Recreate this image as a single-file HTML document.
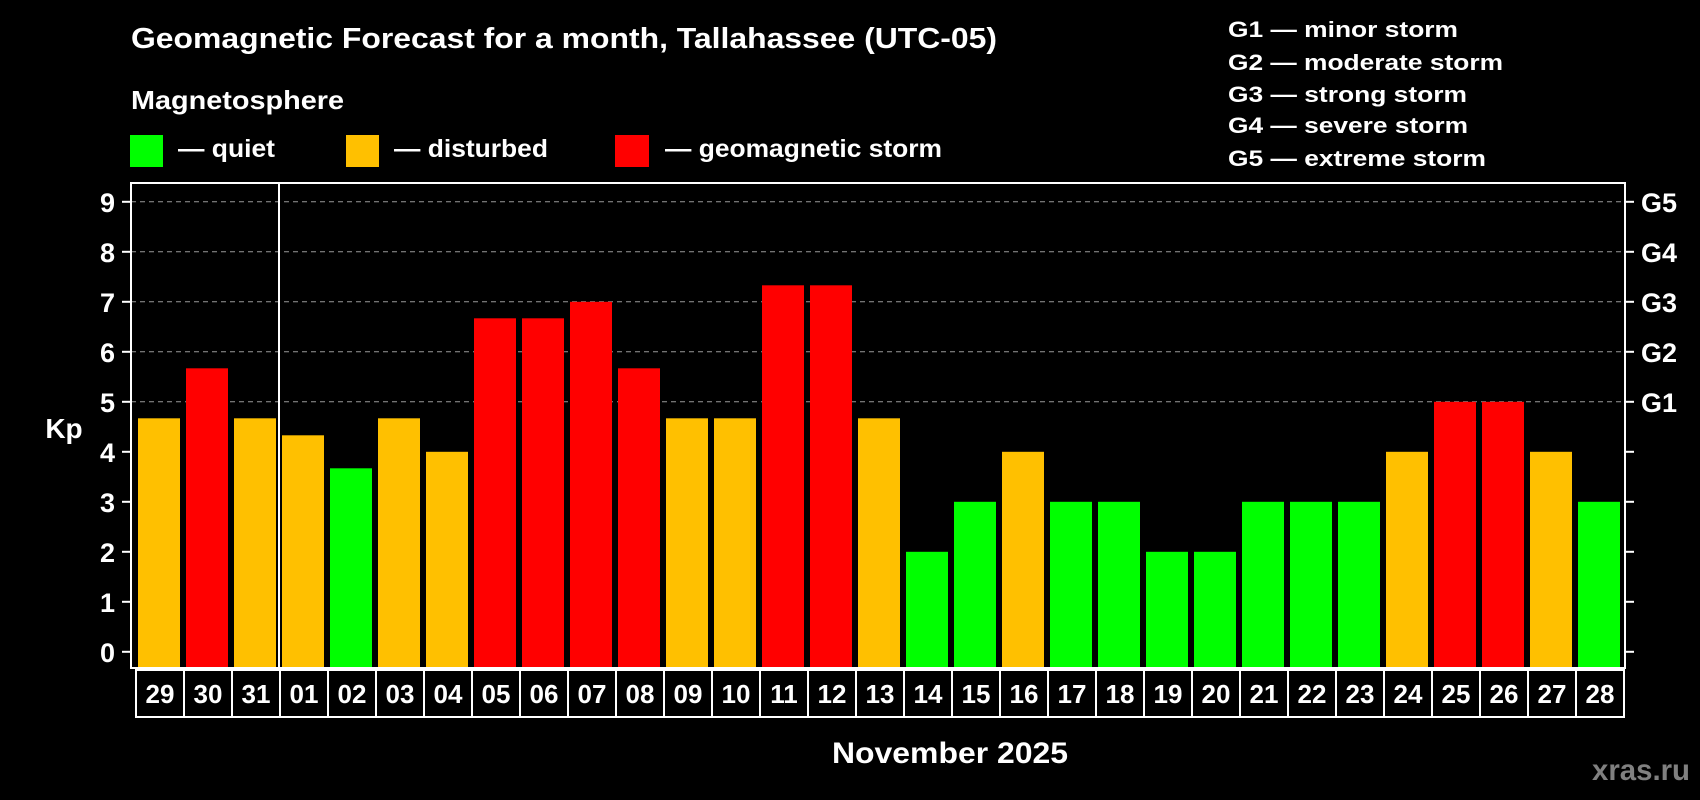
<!DOCTYPE html>
<html><head><meta charset="utf-8"><style>
html,body{margin:0;padding:0;background:#000;}
svg{display:block;font-family:"Liberation Sans",Arial,sans-serif;font-weight:bold;}
</style></head><body>
<svg id="chart" width="1700" height="800" viewBox="0 0 1700 800">
<rect width="1700" height="800" fill="#000"/>
<text x="131" y="48" fill="#fff" font-size="29" textLength="866" lengthAdjust="spacingAndGlyphs">Geomagnetic Forecast for a month, Tallahassee (UTC-05)</text>
<text x="131" y="109" fill="#fff" font-size="26" textLength="213" lengthAdjust="spacingAndGlyphs">Magnetosphere</text>
<g><rect x="130" y="135" width="33" height="32" fill="#00ff00"/><text x="178" y="157" fill="#fff" font-size="25" textLength="97" lengthAdjust="spacingAndGlyphs">— quiet</text></g>
<g><rect x="346" y="135" width="33" height="32" fill="#ffc000"/><text x="394" y="157" fill="#fff" font-size="25" textLength="154" lengthAdjust="spacingAndGlyphs">— disturbed</text></g>
<g><rect x="615" y="135" width="34" height="32" fill="#ff0000"/><text x="665" y="157" fill="#fff" font-size="25" textLength="277" lengthAdjust="spacingAndGlyphs">— geomagnetic storm</text></g>
<g fill="#fff" font-size="22">
<text x="1228" y="37" textLength="230" lengthAdjust="spacingAndGlyphs">G1 — minor storm</text>
<text x="1228" y="70" textLength="275" lengthAdjust="spacingAndGlyphs">G2 — moderate storm</text>
<text x="1228" y="102" textLength="239" lengthAdjust="spacingAndGlyphs">G3 — strong storm</text>
<text x="1228" y="133" textLength="240" lengthAdjust="spacingAndGlyphs">G4 — severe storm</text>
<text x="1228" y="166" textLength="258" lengthAdjust="spacingAndGlyphs">G5 — extreme storm</text>
</g>
<g id="grid"></g>
<g id="bars"></g>
<g id="axes"></g>
<text x="64" y="438" fill="#fff" font-size="28" text-anchor="middle">Kp</text>
<text x="950" y="763" fill="#fff" font-size="30" text-anchor="middle" textLength="236" lengthAdjust="spacingAndGlyphs">November 2025</text>
<text x="1690" y="780" fill="#808080" font-size="30" text-anchor="end" textLength="98" lengthAdjust="spacingAndGlyphs">xras.ru</text>
</svg>
<script>
const days = ["29","30","31","01","02","03","04","05","06","07","08","09","10","11","12","13","14","15","16","17","18","19","20","21","22","23","24","25","26","27","28"];
const kpValues = [4.67,5.67,4.67,4.33,3.67,4.67,4,6.67,6.67,7,5.67,4.67,4.67,7.33,7.33,4.67,2,3,4,3,3,2,2,3,3,3,4,5,5,4,3];
const yTicks = [0,1,2,3,4,5,6,7,8,9];
const gLabels = ["G1","G2","G3","G4","G5"];
const gLevels = [5,6,7,8,9];
const monthStartIndex = 3;

const NS = "http://www.w3.org/2000/svg";
const L = 131, R = 1625, T = 183, B = 668;
const y0 = 651.8, unit = 50;
const slot0 = 135, pitch = 48, barW = 42;
function yScale(v){ return y0 - v*unit; }
function xSlot(i){ return slot0 + i*pitch; }
function mk(tag, attrs, parent){ const e=document.createElementNS(NS,tag); for(const k in attrs) e.setAttribute(k,attrs[k]); parent.appendChild(e); return e; }
function color(v){ return v>=5 ? "#ff0000" : (v>=4 ? "#ffc000" : "#00ff00"); }

const grid = document.getElementById("grid"), bars = document.getElementById("bars"), axes = document.getElementById("axes");
gLevels.forEach((lv,i)=>{
  const ln = mk("line",{x1:L,x2:R,y1:yScale(lv),y2:yScale(lv),stroke:"#999","stroke-width":1,"stroke-dasharray":"5,4"},grid);
  
  
});
kpValues.forEach((v,i)=>{
  const r = mk("rect",{x:xSlot(i)+3,y:yScale(v),width:barW,height:B-yScale(v),fill:color(v)},bars);
  
  
});
const frame = mk("rect",{x:L,y:T,width:R-L,height:B-T,fill:"none",stroke:"#fff","stroke-width":2},axes);


const div = mk("line",{x1:xSlot(monthStartIndex),x2:xSlot(monthStartIndex),y1:T,y2:B,stroke:"#fff","stroke-width":2},axes);


yTicks.forEach(t=>{
  mk("line",{x1:L-9,x2:L,y1:yScale(t),y2:yScale(t),stroke:"#fff","stroke-width":2},axes);
  mk("line",{x1:R,x2:R+9,y1:yScale(t),y2:yScale(t),stroke:"#fff","stroke-width":2},axes);
  const tx = mk("text",{x:115,y:yScale(t)+10,fill:"#fff","font-size":27,"text-anchor":"end"},axes);
  tx.textContent = t;
  
  
});
gLevels.forEach((lv,i)=>{
  const tx = mk("text",{x:1641,y:yScale(lv)+10,fill:"#fff","font-size":27},axes);
  tx.textContent = gLabels[i];
  
  
});
days.forEach((d,i)=>{
  const bx = mk("rect",{x:xSlot(i)+1,y:670,width:pitch,height:47,fill:"none",stroke:"#fff","stroke-width":2},axes);
  
  
  const tx = mk("text",{x:xSlot(i)+25,y:703,fill:"#fff","font-size":26,"text-anchor":"middle"},axes);
  tx.textContent = d;
  
  
});
</script>
</body></html>
